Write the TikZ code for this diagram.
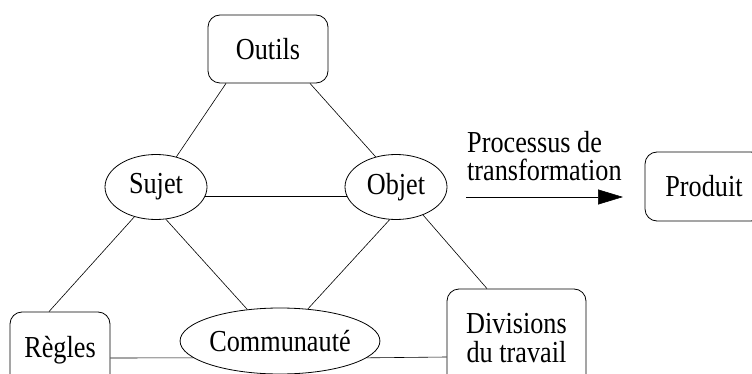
\documentclass[tikz,border=0pt]{standalone}
\usepackage{fontspec}
\setmainfont{Liberation Serif}[FakeStretch=0.86]
\usetikzlibrary{shapes.geometric,arrows.meta,calc}
\begin{document}
\begin{tikzpicture}[x=1pt,y=-1pt,
  every node/.style={font=\fontsize{30.5}{29.5}\selectfont, inner sep=0pt},
  rbox/.style={draw, line width=0.8pt, rounded corners=12pt, align=center},
  ell/.style={draw, ellipse, line width=0.8pt},
  conn/.style={line width=0.6pt}]
\useasboundingbox[fill=white] (0,0) rectangle (752,374);
% nodes
\node[rbox, minimum width=120pt, minimum height=68pt] (outils) at (268,49) {Outils};
\node[ell, minimum width=102pt, minimum height=65pt] (sujet) at (156,187) {Sujet};
\node[ell, minimum width=102pt, minimum height=65pt] (objet) at (396,187) {Objet};
\node[ell, minimum width=191pt, minimum height=66pt] (comm) at (280,341) {Communauté};
\node[rbox, minimum width=100pt, minimum height=76pt] (regles) at (60,350) {Règles};
\node[rbox, minimum width=139pt, minimum height=98pt] (div) at (516.5,338) {Divisions\\du travail};
\node[rbox, minimum width=118pt, minimum height=69pt] (produit) at (704,186.5) {Produit};
% arrow and label
\coordinate (a1) at (466,197);
\coordinate (a2) at (623,197);
\draw[conn, -{Triangle[length=25pt,width=15pt]}] (a1) -- (a2);
\node[anchor=north west, align=left, font=\fontsize{30.5}{28.3}\selectfont] (lbl) at (467,131) {Processus de\\transformation};
% connectors
\draw[conn] ([xshift=-42pt]outils.south) -- (sujet.56);
\draw[conn] ([xshift=42pt]outils.south) -- (objet.124);
\draw[conn] (sujet.-11.6) -- (objet.191.6);
\draw[conn] (sujet.234) -- ([xshift=-11pt]regles.north);
\draw[conn] (sujet.-73) -- (comm.136);
\draw[conn] (objet.259) -- (comm.49);
\draw[conn] (objet.-46) -- ([xshift=-29.5pt]div.north);
\draw[conn] ([yshift=-8pt]regles.east) -- (comm.191.7);
\draw[conn] (comm.-11.7) -- ([yshift=-19pt]div.west);
\end{tikzpicture}
\end{document}
